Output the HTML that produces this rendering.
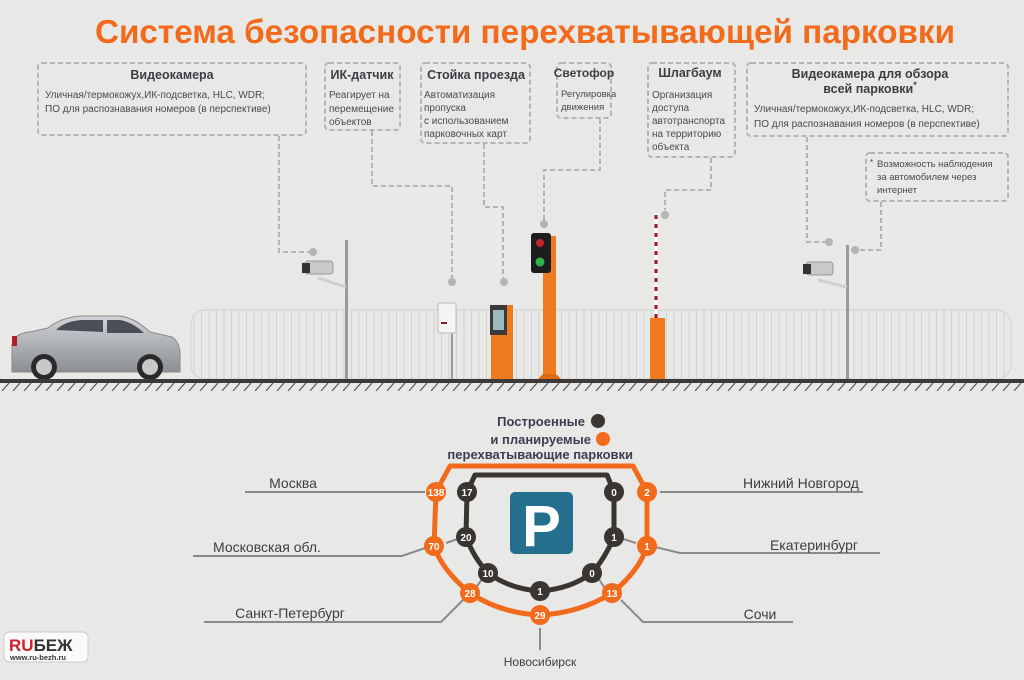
<!DOCTYPE html>
<html><head><meta charset="utf-8">
<style>
html,body{margin:0;padding:0;background:#e8e8e6;}
svg{display:block;font-family:"Liberation Sans",Arial,sans-serif;}
.d{fill:none;stroke:#b4b4b4;stroke-width:2;stroke-dasharray:5,3;}
.bt{font-size:12.5px;font-weight:bold;fill:#3d3d46;}
.tx{font-size:10px;fill:#4a4a50;}
.ct{font-size:14px;fill:#3d3d46;}
.nw{font-size:10px;font-weight:bold;fill:#fff;text-anchor:middle;}
.gl{fill:none;stroke:#8a8a8a;stroke-width:2;}
</style></head><body>
<svg width="1024" height="680" viewBox="0 0 1024 680" xmlns="http://www.w3.org/2000/svg">
<defs>
<pattern id="fence" x="191" y="0" width="7.5" height="10" patternUnits="userSpaceOnUse">
<line x1="3" y1="0" x2="3" y2="10" stroke="#d2d2d2" stroke-width="1"/>
</pattern>
<pattern id="hatch" x="0" y="383" width="11" height="8" patternUnits="userSpaceOnUse">
<line x1="2" y1="8" x2="9" y2="0" stroke="#555" stroke-width="1.2"/>
</pattern>
<linearGradient id="cg" x1="0" y1="0" x2="0" y2="1"><stop offset="0" stop-color="#d2d4d8"/><stop offset="0.6" stop-color="#a6a9ae"/><stop offset="1" stop-color="#8c8f94"/></linearGradient>
</defs>
<text x="525" y="43" text-anchor="middle" font-size="33" font-weight="bold" fill="#f26a1b" textLength="860" lengthAdjust="spacingAndGlyphs">Система безопасности перехватывающей парковки</text>

<!-- boxes -->
<rect class="d" x="38" y="63" width="268" height="72" rx="4"/>
<text class="bt" x="172" y="79" text-anchor="middle">Видеокамера</text>
<text class="tx" x="45" y="98">Уличная/термокожух,ИК-подсветка, HLC, WDR;</text>
<text class="tx" x="45" y="112">ПО для распознавания номеров (в перспективе)</text>

<rect class="d" x="325" y="63" width="75" height="67" rx="4"/>
<text class="bt" x="362" y="79" text-anchor="middle">ИК-датчик</text>
<text class="tx" x="329" y="98">Реагирует на</text>
<text class="tx" x="329" y="112">перемещение</text>
<text class="tx" x="329" y="125">объектов</text>

<rect class="d" x="421" y="63" width="109" height="80" rx="4"/>
<text class="bt" x="476" y="79" text-anchor="middle">Стойка проезда</text>
<text class="tx" x="424" y="98">Автоматизация</text>
<text class="tx" x="424" y="111">пропуска</text>
<text class="tx" x="424" y="124">с использованием</text>
<text class="tx" x="424" y="137">парковочных карт</text>

<rect class="d" x="557" y="63" width="54" height="55" rx="4"/>
<text class="bt" x="584" y="77" text-anchor="middle" style="font-size:12px">Светофор</text>
<text class="tx" x="561" y="97" style="font-size:9.5px">Регулировка</text>
<text class="tx" x="561" y="110" style="font-size:9.5px">движения</text>

<rect class="d" x="648" y="63" width="87" height="94" rx="4"/>
<text class="bt" x="690" y="77" text-anchor="middle">Шлагбаум</text>
<text class="tx" x="652" y="98">Организация</text>
<text class="tx" x="652" y="111">доступа</text>
<text class="tx" x="652" y="124">автотранспорта</text>
<text class="tx" x="652" y="137">на территорию</text>
<text class="tx" x="652" y="150">объекта</text>

<rect class="d" x="747" y="63" width="261" height="73" rx="4"/>
<text class="bt" x="870" y="78" text-anchor="middle">Видеокамера для обзора</text>
<text class="bt" x="870" y="93" text-anchor="middle">всей парковки<tspan font-size="9" dy="-5">*</tspan></text>
<text class="tx" x="754" y="112">Уличная/термокожух,ИК-подсветка, HLC, WDR;</text>
<text class="tx" x="754" y="127">ПО для распознавания номеров (в перспективе)</text>

<rect class="d" x="866" y="153" width="142" height="48" rx="4"/>
<text x="870" y="165" font-size="8" fill="#4a4a50">*</text>
<text class="tx" x="877" y="167" style="font-size:9.5px">Возможность наблюдения</text>
<text class="tx" x="877" y="180" style="font-size:9.5px">за автомобилем через</text>
<text class="tx" x="877" y="193" style="font-size:9.5px">интернет</text>

<!-- connectors -->
<path class="d" d="M279 136 V252 H310"/>
<path class="d" d="M372 131 V186 H452 V278"/>
<path class="d" d="M484 144 V207 H503 V278"/>
<path class="d" d="M600 119 V170 H544 V220"/>
<path class="d" d="M711 158 V190 H665 V210"/>
<path class="d" d="M807 137 V242 H826"/>
<path class="d" d="M881 202 V250 H858"/>
<g fill="#b4b4b4">
<circle cx="313" cy="252" r="4"/><circle cx="452" cy="282" r="4"/><circle cx="504" cy="282" r="4"/>
<circle cx="544" cy="224" r="4"/><circle cx="665" cy="215" r="4"/><circle cx="829" cy="242" r="4"/><circle cx="855" cy="250" r="4"/>
</g>

<!-- fence -->
<rect x="191" y="310" width="820" height="69" rx="14" fill="url(#fence)" stroke="#d2d2d2" stroke-width="1"/>

<!-- camera 1 -->
<rect x="345" y="240" width="3" height="140" fill="#9a9a9a"/>
<path d="M318 278 L346 287" stroke="#cfcfcf" stroke-width="3"/>
<rect x="305" y="261" width="28" height="13" rx="3" fill="#c9c9c9" stroke="#999"/>
<rect x="302" y="263" width="8" height="10" fill="#333"/>
<!-- camera 2 -->
<rect x="846" y="245" width="3" height="135" fill="#9a9a9a"/>
<path d="M818 280 L847 287" stroke="#cfcfcf" stroke-width="3"/>
<rect x="806" y="262" width="27" height="13" rx="3" fill="#c9c9c9" stroke="#999"/>
<rect x="803" y="264" width="8" height="10" fill="#333"/>
<!-- IK sensor -->
<rect x="451" y="330" width="2" height="50" fill="#9a9a9a"/>
<rect x="438" y="303" width="18" height="30" rx="2" fill="#f4f4f4" stroke="#bbb"/>
<rect x="441" y="322" width="6" height="2" fill="#822"/>
<!-- pay station -->
<rect x="491" y="305" width="22" height="76" fill="#f07a1e"/>
<rect x="490" y="305" width="17" height="30" fill="#3a3a3a"/>
<rect x="493" y="310" width="11" height="20" fill="#9bb"/>
<!-- traffic light -->
<rect x="543" y="236" width="13" height="142" fill="#f07a1e"/>
<path d="M537 380 L562 380 L556 374 L543 374 Z" fill="#e06a10"/>
<rect x="531" y="233" width="20" height="40" rx="3" fill="#1d1d1d"/>
<circle cx="540" cy="243" r="4" fill="#c0272d"/>
<circle cx="540" cy="262" r="4.5" fill="#2fb34a"/>
<!-- barrier -->
<line x1="656" y1="213" x2="656" y2="318" stroke="#fff" stroke-width="3"/>
<line x1="656" y1="215" x2="656" y2="318" stroke="#a01820" stroke-width="3" stroke-dasharray="4,5"/>
<rect x="650" y="318" width="15" height="62" fill="#f07a1e"/>

<!-- car -->
<path d="M12 360 L12 345 Q14 333 30 332 L48 328 Q60 318 80 316 L120 316 Q135 318 150 332 L172 337 Q180 342 180 355 L180 372 L12 372 Z" fill="url(#cg)" stroke="#888" stroke-width="1"/>
<path d="M56 330 Q65 321 82 320 L103 320 L103 332 Z" fill="#4a4e55"/>
<path d="M107 320 L120 320 Q132 322 144 333 L107 333 Z" fill="#4a4e55"/>
<rect x="12" y="336" width="5" height="10" fill="#b02020"/>
<circle cx="44" cy="367" r="13" fill="#2a2a2a"/><circle cx="44" cy="367" r="8" fill="#c8c8c8"/>
<circle cx="150" cy="367" r="13" fill="#2a2a2a"/><circle cx="150" cy="367" r="8" fill="#c8c8c8"/>

<!-- ground -->
<rect x="0" y="379" width="1024" height="4" fill="#3c3a38"/>
<rect x="0" y="383" width="1024" height="8" fill="url(#hatch)"/>

<!-- legend -->
<g font-size="13" font-weight="bold" fill="#3d3d52" text-anchor="end">
<text x="585" y="426">Построенные</text>
<text x="591" y="444">и планируемые</text>
<text x="633" y="459">перехватывающие парковки</text>
</g>
<circle cx="598" cy="421" r="7" fill="#3a3432"/>
<circle cx="603" cy="439" r="7" fill="#f26a1b"/>

<!-- city lines -->
<path class="gl" d="M245 492 H425"/>
<path class="gl" d="M193 556 H402 L428 547"/>
<path class="gl" d="M204 622 H441 L463 600"/>
<path class="gl" d="M660 492 H863"/>
<path class="gl" d="M655 547 L680 553 H880"/>
<path class="gl" d="M621 600 L643 622 H793"/>
<path class="gl" d="M540 628 V650"/>
<path class="gl" d="M483 578 L474 590"/>
<path class="gl" d="M598 578 L606 590"/>
<path class="gl" d="M472 534 L446 543"/>
<path class="gl" d="M608 534 L636 543"/>

<g class="ct">
<text x="293" y="488" text-anchor="middle">Москва</text>
<text x="267" y="552" text-anchor="middle">Московская обл.</text>
<text x="290" y="618" text-anchor="middle">Санкт-Петербург</text>
<text x="801" y="488" text-anchor="middle">Нижний Новгород</text>
<text x="814" y="550" text-anchor="middle">Екатеринбург</text>
<text x="760" y="619" text-anchor="middle">Сочи</text>
<text x="540" y="666" text-anchor="middle" font-size="12">Новосибирск</text>
</g>

<!-- orange ring -->
<path d="M436 492 L450 466 H633 L647 492 L647 546 Q640 570 612 593 Q580 613 540 615 Q500 613 470 593 Q442 570 434 546 Z" fill="none" stroke="#f26a1b" stroke-width="5" stroke-linejoin="round"/>
<!-- dark ring -->
<path d="M467 492 L475 475 H607 L614 492 L614 537 Q605 558 592 573 Q570 589 540 591 Q510 589 488 573 Q474 558 466 537 Z" fill="none" stroke="#3a3432" stroke-width="5" stroke-linejoin="round"/>

<rect x="510" y="492" width="63" height="62" rx="5" fill="#246e8e"/>
<text x="541.5" y="546" text-anchor="middle" font-size="58" font-weight="bold" fill="#fff">P</text>

<g fill="#f26a1b">
<circle cx="436" cy="492" r="10"/><circle cx="434" cy="546" r="10"/><circle cx="470" cy="593" r="10"/>
<circle cx="540" cy="615" r="10"/><circle cx="612" cy="593" r="10"/><circle cx="647" cy="546" r="10"/><circle cx="647" cy="492" r="10"/>
</g>
<g fill="#3a3432">
<circle cx="467" cy="492" r="10"/><circle cx="466" cy="537" r="10"/><circle cx="488" cy="573" r="10"/>
<circle cx="540" cy="591" r="10"/><circle cx="592" cy="573" r="10"/><circle cx="614" cy="537" r="10"/><circle cx="614" cy="492" r="10"/>
</g>
<g class="nw">
<text x="436" y="496">138</text><text x="434" y="550">70</text><text x="470" y="597">28</text>
<text x="540" y="619">29</text><text x="612" y="597">13</text><text x="647" y="550">1</text><text x="647" y="496">2</text>
<text x="467" y="496">17</text><text x="466" y="541">20</text><text x="488" y="577">10</text>
<text x="540" y="595">1</text><text x="592" y="577">0</text><text x="614" y="541">1</text><text x="614" y="496">0</text>
</g>

<!-- logo -->
<rect x="4" y="632" width="84" height="30" rx="5" fill="#fafafa" stroke="#ccc"/>
<text x="9" y="651" font-size="17" font-weight="bold" fill="#d0202a">RU<tspan fill="#333">БЕЖ</tspan></text>
<text x="10" y="660" font-size="7.5" font-weight="bold" fill="#333">www.ru-bezh.ru</text>
</svg>
</body></html>
